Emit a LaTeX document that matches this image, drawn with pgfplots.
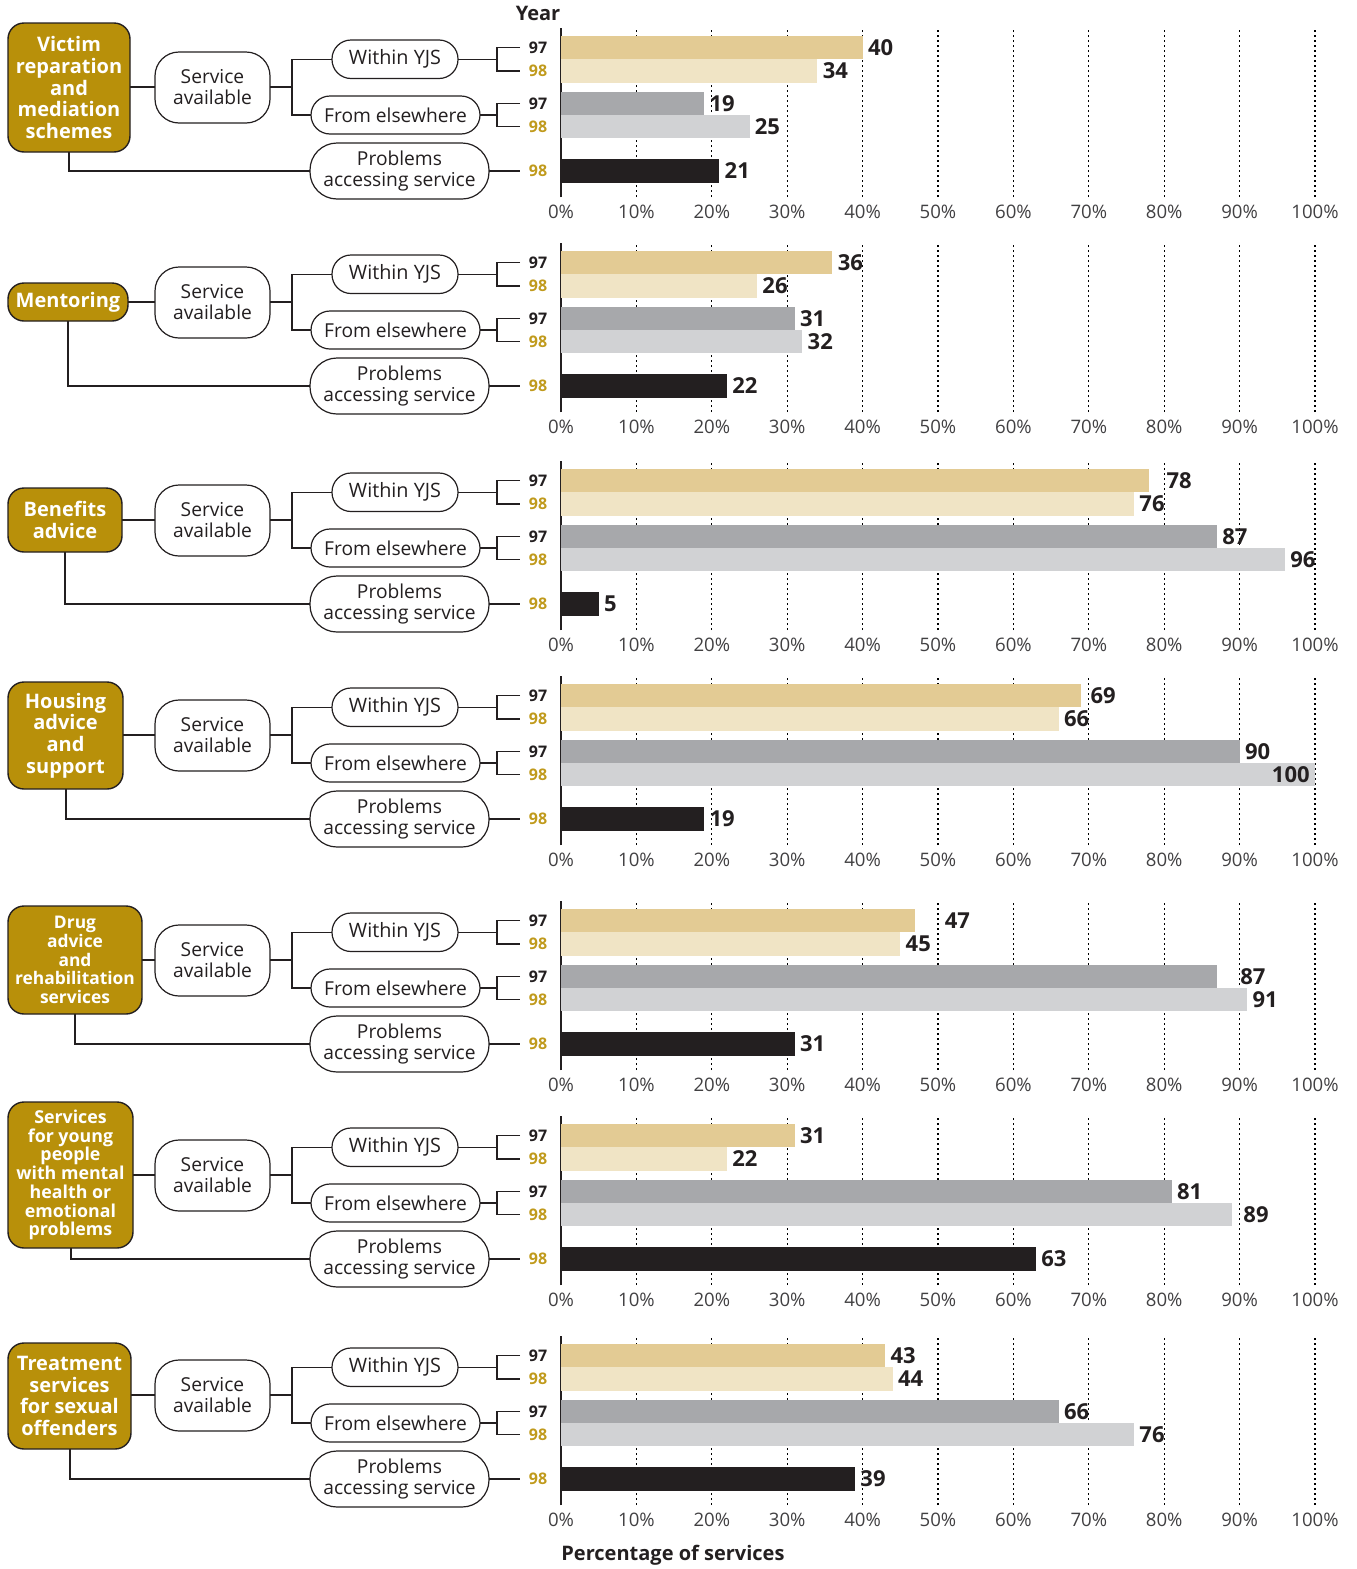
\documentclass[border=0pt]{standalone}
\usepackage{pgfplots}
\pgfplotsset{compat=1.18}
\usepackage{fontspec}
\setmainfont{Open Sans}
\definecolor{gold}{HTML}{B8900A}
\definecolor{goldtxt}{HTML}{C09A1C}
\definecolor{dark}{HTML}{231F20}
\definecolor{tickgray}{HTML}{414042}
\definecolor{wa}{HTML}{E3CB94}
\definecolor{wb}{HTML}{F0E4C5}
\definecolor{ea}{HTML}{A7A8AB}
\definecolor{eb}{HTML}{D1D2D4}
\definecolor{pr}{HTML}{231F20}

\pgfplotsset{
  panel/.style={
    scale only axis, width=377pt, height=84.5pt,
    xmin=0, xmax=100, ymin=0, ymax=169,
    anchor=south west, clip=false,
    axis lines*=left,
    x axis line style={draw=none},
    y axis line style={line width=1.2pt, draw=dark},
    ytick=\empty,
    xtick={0,10,...,100},
    major tick length=0pt,
    xmajorgrids,
    major grid style={dash pattern=on 1.1pt off 1.4pt, line width=0.6pt, black},
    /pgf/number format/assume math mode=true,
    xticklabel={\pgfmathprintnumber{\tick}\%},
    xticklabel style={font=\fontsize{9.3}{10}\selectfont, text=tickgray, inner sep=0pt, anchor=center, yshift=-7.5pt},
    every axis plot/.append style={xbar, bar width=11.75pt, bar shift=0pt, draw=none,
      nodes near coords, point meta=x,
      nodes near coords style={anchor=west, font=\bfseries\fontsize{11}{12}\selectfont, text=dark, inner sep=2.5pt}},
  }
}

\newcommand\diagram[8]{%
\begin{scope}[x=0.5pt,y=-0.5pt,shift={(0,#1)},line width=0.6pt,draw=dark]
 \draw (#2,87) -- (155,87);
 \draw (#5,#4) |- (310,171);
 \draw[line width=0.7pt, fill=gold, rounded corners=8pt] (8,#3) rectangle (#2,#4);
 \node[text=white, align=center, font=\bfseries\fontsize{#6}{#7}\selectfont, inner sep=0pt] at ({(8+#2)/2},{(#3+#4)/2}) {#8};
 \draw[fill=white, rounded corners=12pt] (155,52) rectangle (270,123);
 \node[font=\fontsize{9.6}{10.5}\selectfont, align=center, text=dark, inner sep=0pt] at (212.5,87.5) {Service\\available};
 \draw (270,87) -- (292,87);
 \draw (332,59.25) -- (292,59.25) -- (292,115) -- (311,115);
 \draw[fill=white, rounded corners=9.5pt] (332,40) rectangle (458,78.5);
 \node[font=\fontsize{9.9}{10.5}\selectfont, text=dark, inner sep=0pt] at (395,59.25) {Within YJS};
 \draw[fill=white, rounded corners=9.5pt] (311,96) rectangle (480,134);
 \node[font=\fontsize{9.6}{10.5}\selectfont, text=dark, inner sep=0pt] at (395.5,115) {From elsewhere};
 \draw[fill=white, rounded corners=13.5pt] (310,143) rectangle (489,199);
 \node[font=\fontsize{9.6}{10.5}\selectfont, align=center, text=dark, inner sep=0pt] at (399.5,171) {Problems\\accessing service};
 \draw (458,59.25) -- (497,59.25);
 \draw (520,47.5) -- (497,47.5) -- (497,71) -- (520,71);
 \draw (480,115) -- (497,115);
 \draw (520,103.5) -- (497,103.5) -- (497,126.5) -- (520,126.5);
 \draw (489,171) -- (520,171);
 \node[font=\bfseries\fontsize{8}{9}\selectfont, text=dark] at (538,47.5) {97};
 \node[font=\bfseries\fontsize{8}{9}\selectfont, text=goldtxt] at (538,71) {98};
 \node[font=\bfseries\fontsize{8}{9}\selectfont, text=dark] at (538,103.5) {97};
 \node[font=\bfseries\fontsize{8}{9}\selectfont, text=goldtxt] at (538,126.5) {98};
 \node[font=\bfseries\fontsize{8}{9}\selectfont, text=goldtxt] at (538,171) {98};
\end{scope}}

\begin{document}
\begin{tikzpicture}
\useasboundingbox (0,0) rectangle (678pt,-784.5pt);

\diagram{0}{130}{23}{152}{69}{10}{10.8}{Victim\\reparation\\and\\mediation\\schemes}
\diagram{215}{128}{68}{106}{68}{10}{10.8}{Mentoring}
\diagram{433}{122}{55}{119}{65}{10}{10.8}{Benefits\\advice}
\diagram{648}{123}{34}{141}{66}{10}{10.8}{Housing\\advice\\and\\support}
\diagram{873}{142}{33}{141}{75}{8.7}{9.4}{Drug\\advice\\and\\rehabilitation\\services}
\diagram{1088}{133}{14}{160}{71}{8.9}{9.35}{Services\\for young\\people\\with mental\\health or\\emotional\\problems}
\diagram{1308}{131}{35}{141}{70}{10}{10.8}{Treatment\\services\\for sexual\\offenders}

\node[font=\bfseries\fontsize{10}{12}\selectfont, text=dark] at (269pt,-6.5pt) {Year};
\node[font=\bfseries\fontsize{10}{12}\selectfont, text=dark, anchor=west, inner sep=0pt] at (280.5pt,-777.5pt) {Percentage of services};

% Panel 1: Victim reparation and mediation schemes
\begin{axis}[panel, at={(280.5pt,-98.5pt)}]
\addplot[fill=wa] coordinates {(40,149.5)};
\addplot[fill=wb] coordinates {(34,126)};
\addplot[fill=ea] coordinates {(19,93.5)};
\addplot[fill=eb] coordinates {(25,70.5)};
\addplot[fill=pr] coordinates {(21,26)};
\end{axis}

% Panel 2: Mentoring
\begin{axis}[panel, at={(280.5pt,-206pt)}]
\addplot[fill=wa] coordinates {(36,149.5)};
\addplot[fill=wb] coordinates {(26,126)};
\addplot[fill=ea] coordinates {(31,93.5)};
\addplot[fill=eb] coordinates {(32,70.5)};
\addplot[fill=pr] coordinates {(22,26)};
\end{axis}

% Panel 3: Benefits advice
\begin{axis}[panel, at={(280.5pt,-315pt)}]
\addplot[fill=wa, nodes near coords style={xshift=6pt}] coordinates {(78,149.5)};
\addplot[fill=wb] coordinates {(76,126)};
\addplot[fill=ea] coordinates {(87,93.5)};
\addplot[fill=eb] coordinates {(96,70.5)};
\addplot[fill=pr] coordinates {(5,26)};
\end{axis}

% Panel 4: Housing advice and support
\begin{axis}[panel, at={(280.5pt,-422.5pt)}]
\addplot[fill=wa, nodes near coords style={xshift=2pt}] coordinates {(69,149.5)};
\addplot[fill=wb] coordinates {(66,126)};
\addplot[fill=ea] coordinates {(90,93.5)};
\addplot[fill=eb, nodes near coords style={anchor=east}] coordinates {(100,70.5)};
\addplot[fill=pr] coordinates {(19,26)};
\end{axis}

% Panel 5: Drug advice and rehabilitation services
\begin{axis}[panel, at={(280.5pt,-535pt)}]
\addplot[fill=wa, nodes near coords style={xshift=12pt}] coordinates {(47,149.5)};
\addplot[fill=wb] coordinates {(45,126)};
\addplot[fill=ea, nodes near coords style={xshift=9pt}] coordinates {(87,93.5)};
\addplot[fill=eb] coordinates {(91,70.5)};
\addplot[fill=pr] coordinates {(31,26)};
\end{axis}

% Panel 6: Services for young people with mental health or emotional problems
\begin{axis}[panel, at={(280.5pt,-642.5pt)}]
\addplot[fill=wa] coordinates {(31,149.5)};
\addplot[fill=wb] coordinates {(22,126)};
\addplot[fill=ea] coordinates {(81,93.5)};
\addplot[fill=eb, nodes near coords style={xshift=3pt}] coordinates {(89,70.5)};
\addplot[fill=pr] coordinates {(63,26)};
\end{axis}

% Panel 7: Treatment services for sexual offenders
\begin{axis}[panel, at={(280.5pt,-752.5pt)}]
\addplot[fill=wa] coordinates {(43,149.5)};
\addplot[fill=wb] coordinates {(44,126)};
\addplot[fill=ea] coordinates {(66,93.5)};
\addplot[fill=eb] coordinates {(76,70.5)};
\addplot[fill=pr] coordinates {(39,26)};
\end{axis}
\end{tikzpicture}
\end{document}
